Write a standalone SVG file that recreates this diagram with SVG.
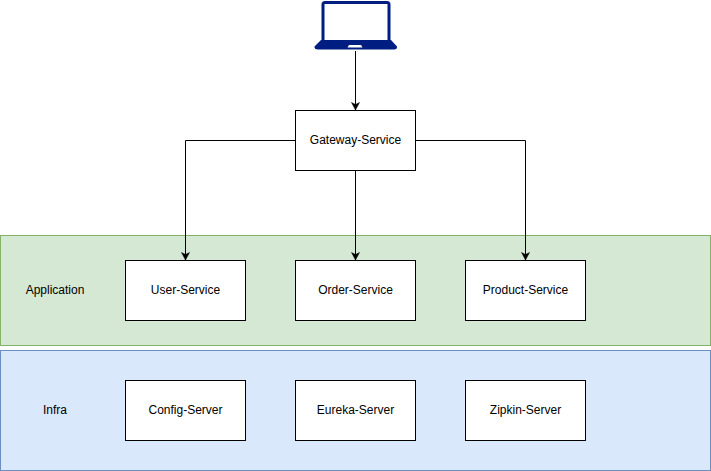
<svg xmlns="http://www.w3.org/2000/svg" width="711" height="471" viewBox="0 0 711 471">
<style>
.box{fill:#fff;stroke:#000;stroke-width:1}
.t{font-family:"Liberation Sans",Arial,sans-serif;font-size:12px;fill:#000;text-anchor:middle}
.c{fill:none;stroke:#000;stroke-width:1;marker-end:url(#a)}
</style>
<defs><marker id="a" markerUnits="userSpaceOnUse" markerWidth="10" markerHeight="10" refX="8" refY="4.5" orient="auto"><path d="M0.5 0.5L8 4.5L0.5 8.5L2.5 4.5Z" fill="#000" stroke="#000" stroke-width="0.5"/></marker></defs>
<rect width="711" height="471" fill="#fff"/>
<g id="application"><rect x="0.5" y="235.5" width="710" height="110" fill="#d5e8d4" stroke="#82b366"/><text class="t" x="55" y="294">Application</text></g>
<g id="infra"><rect x="0.5" y="350.5" width="710" height="120" fill="#dae8fc" stroke="#6c8ebf"/><text class="t" x="55" y="414">Infra</text></g>
<g id="connectors">
<path class="c" d="M355.5 51V110"/>
<path class="c" d="M295.5 140.500H185.500V260"/>
<path class="c" d="M355.500 170V260"/>
<path class="c" d="M415.500 140.500H525.500V260"/>
</g>
<g id="laptop">
<path fill-rule="evenodd" fill="#001d82" d="M325 1H387Q390.500 1 390.500 4.500V41H321.500V4.500Q321.500 1 325 1ZM324.500 4V41H387.500V4Z"/>
<path fill="#001d82" d="M321 40H391L397 46.500V47Q397 49.500 394 49.500H318Q314.500 49.500 314.500 47V46.500Z"/>
<path fill="#fff" d="M349 45H361L362.500 47.500H347.500Z"/>
</g>
<g id="gateway"><rect class="box" x="295.500" y="110.500" width="120" height="60"/><text class="t" x="355.500" y="144">Gateway-Service</text></g>
<g id="user"><rect class="box" x="125.500" y="260.500" width="120" height="60"/><text class="t" x="185.500" y="294">User-Service</text></g>
<g id="order"><rect class="box" x="295.500" y="260.500" width="120" height="60"/><text class="t" x="355.500" y="294">Order-Service</text></g>
<g id="product"><rect class="box" x="465.500" y="260.500" width="120" height="60"/><text class="t" x="525.500" y="294">Product-Service</text></g>
<g id="config"><rect class="box" x="125.500" y="380.500" width="120" height="60"/><text class="t" x="185.500" y="414">Config-Server</text></g>
<g id="eureka"><rect class="box" x="295.500" y="380.500" width="120" height="60"/><text class="t" x="355.500" y="414">Eureka-Server</text></g>
<g id="zipkin"><rect class="box" x="465.500" y="380.500" width="120" height="60"/><text class="t" x="525.500" y="414">Zipkin-Server</text></g>
</svg>
